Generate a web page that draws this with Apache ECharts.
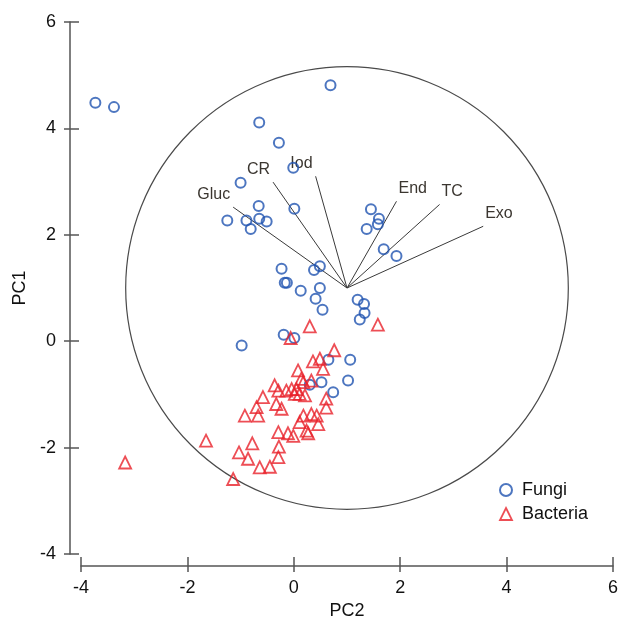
<!DOCTYPE html>
<html>
<head>
<meta charset="utf-8">
<script src="https://cdn.jsdelivr.net/npm/echarts@6/dist/echarts.min.js"></script>
<style>
  html, body { margin: 0; padding: 0; background: #fff; }
  #chart { width: 618px; height: 618px; }
</style>
</head>
<body>
<div id="chart"></div>
<script>
// PCA biplot: scores of Fungi / Bacteria isolates + loading vectors
var fungiPoints = [
  [-3.73, 4.48], [-3.38, 4.40], [0.69, 4.81], [-0.65, 4.11], [-0.28, 3.73],
  [-0.01, 3.26], [-1.00, 2.98], [0.01, 2.49], [-0.66, 2.54], [-1.25, 2.27],
  [-0.89, 2.27], [-0.65, 2.30], [-0.51, 2.25], [-0.81, 2.11], [1.45, 2.48],
  [1.60, 2.30], [1.58, 2.20], [1.37, 2.11], [1.69, 1.73], [1.93, 1.60],
  [-0.23, 1.36], [0.38, 1.34], [0.49, 1.41], [-0.17, 1.10], [-0.13, 1.10],
  [0.13, 0.95], [0.49, 1.00], [0.41, 0.80], [0.54, 0.59], [1.20, 0.78],
  [1.32, 0.70], [1.33, 0.53], [1.24, 0.41], [-0.19, 0.12], [0.01, 0.06],
  [-0.98, -0.08], [0.65, -0.35], [1.06, -0.35], [1.02, -0.74], [0.52, -0.77],
  [0.30, -0.82], [0.74, -0.96]
];

var bacteriaPoints = [
  [0.30, 0.28], [1.58, 0.31], [-0.06, 0.06], [0.76, -0.17], [0.36, -0.38],
  [0.49, -0.33], [0.55, -0.52], [0.08, -0.55], [0.14, -0.71], [0.18, -0.77],
  [0.33, -0.74], [-0.36, -0.83], [-0.29, -0.93], [-0.14, -0.93], [-0.04, -0.90],
  [0.05, -0.90], [0.02, -0.99], [0.11, -0.99], [0.21, -1.02], [-0.58, -1.05],
  [0.61, -1.08], [-0.33, -1.18], [-0.70, -1.24], [-0.23, -1.27], [0.61, -1.25],
  [-0.92, -1.40], [-0.67, -1.40], [0.18, -1.40], [0.33, -1.37], [0.43, -1.40],
  [0.11, -1.52], [0.46, -1.56], [0.24, -1.68], [-0.29, -1.71], [-0.11, -1.73],
  [-0.01, -1.78], [0.27, -1.73], [-1.65, -1.87], [-0.78, -1.92], [-0.28, -1.98],
  [-1.03, -2.09], [-0.86, -2.21], [-0.29, -2.18], [-0.64, -2.37], [-0.45, -2.36],
  [-1.14, -2.59], [-3.17, -2.28]
];

// loading vectors (end points), all starting from vectorOrigin
var loadings = [
  [-1.14, 2.52, 'Gluc'],
  [-0.39, 2.99, 'CR'],
  [0.41, 3.10, 'Iod'],
  [1.93, 2.63, 'End'],
  [2.74, 2.57, 'TC'],
  [3.56, 2.16, 'Exo']
];
var vectorOrigin = [1.0, 1.0];

// correlation circle
var circleData = [[1.0, 1.0, 4.16]];

var axisTicks = [-4, -2, 0, 2, 4, 6];

var fontFamily = '"Liberation Sans", Arial, sans-serif';
var axisColor = '#555';
var blue = '#2154b0';
var red = '#e8222b';

var chart = echarts.init(document.getElementById('chart'));

// second copy of each axis only draws the inner half of the ticks
function makeAxis(name, position, offset, inside, withLabels) {
  var isY = name === 'PC1';
  return {
    type: 'value',
    position: position,
    min: axisTicks[0],
    max: axisTicks[axisTicks.length - 1],
    interval: 2,
    offset: offset,
    name: withLabels ? name : '',
    nameLocation: 'middle',
    nameGap: isY ? 34 : 35,
    nameTextStyle: { color: '#111', fontSize: 18, fontFamily: fontFamily },
    axisLine: { show: withLabels, onZero: false, lineStyle: { color: axisColor, width: 1.5 } },
    axisTick: { show: true, inside: inside, length: inside ? 9 : 6, lineStyle: { color: axisColor, width: 1.5 } },
    axisLabel: { show: withLabels, color: '#111', fontSize: 18, fontFamily: fontFamily, margin: isY ? 14 : 13 },
    splitLine: { show: false }
  };
}

var option = {
  backgroundColor: '#fff',
  animation: false,
  grid: { left: 81, right: 5, top: 22, bottom: 64, outerBoundsMode: 'none' },
  xAxis: [makeAxis('PC2', 'bottom', 12, false, true), makeAxis('PC2', 'bottom', 12, true, false)],
  yAxis: [makeAxis('PC1', 'left', 11, false, true), makeAxis('PC1', 'left', 11, true, false)],
  legend: {
    orient: 'vertical',
    left: 499,
    top: 481,
    padding: 0,
    itemWidth: 12,
    itemHeight: 12,
    itemGap: 6,
    textStyle: { color: '#111', fontSize: 18, fontFamily: fontFamily, padding: [0, 0, 0, 5] },
    data: [
      { name: 'Fungi', icon: 'circle', itemStyle: { color: 'transparent', borderColor: blue, borderWidth: 2 } },
      { name: 'Bacteria', icon: 'triangle', itemStyle: { color: 'transparent', borderColor: red, borderWidth: 1.8 } }
    ]
  },
  series: [
    {
      // correlation circle
      type: 'custom',
      silent: true,
      clip: false,
      z: 1,
      data: circleData,
      renderItem: function (params, api) {
        var c = api.coord([api.value(0), api.value(1)]);
        var r = api.size([api.value(2), 0])[0];
        return {
          type: 'circle',
          shape: { cx: c[0], cy: c[1], r: r },
          style: { fill: 'none', stroke: '#4a4a4a', lineWidth: 1.2 }
        };
      }
    },
    {
      // loading vectors + labels
      type: 'custom',
      silent: true,
      clip: false,
      z: 1,
      data: loadings,
      renderItem: function (params, api) {
        var o = api.coord(vectorOrigin);
        var e = api.coord([api.value(0), api.value(1)]);
        var left = e[0] < o[0];
        return {
          type: 'group',
          children: [
            {
              type: 'line',
              shape: { x1: o[0], y1: o[1], x2: e[0], y2: e[1] },
              style: { stroke: '#3a3a3a', lineWidth: 1 }
            },
            {
              type: 'text',
              x: left ? e[0] - 3 : e[0] + 2,
              y: e[1] - 5,
              style: {
                text: loadings[params.dataIndex][2],
                align: left ? 'right' : 'left',
                verticalAlign: 'bottom',
                fill: '#3b3630',
                fontSize: 16,
                fontFamily: fontFamily
              }
            }
          ]
        };
      }
    },
    {
      name: 'Fungi',
      type: 'scatter',
      z: 3,
      symbol: 'circle',
      symbolSize: 10,
      itemStyle: { color: 'transparent', borderColor: blue, borderWidth: 2 },
      data: fungiPoints
    },
    {
      name: 'Bacteria',
      type: 'scatter',
      z: 4,
      symbol: 'triangle',
      symbolSize: 12,
      itemStyle: { color: 'transparent', borderColor: red, borderWidth: 1.8 },
      data: bacteriaPoints
    }
  ]
};

chart.setOption(option);
</script>
</body>
</html>
